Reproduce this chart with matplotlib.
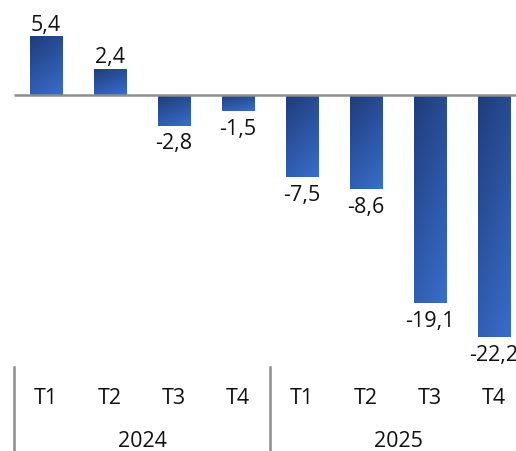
import numpy as np
import matplotlib.pyplot as plt
from matplotlib.colors import LinearSegmentedColormap

# Data
quarters = ['T1', 'T2', 'T3', 'T4', 'T1', 'T2', 'T3', 'T4']
years = ['2024', '2025']
values = [5.4, 2.4, -2.8, -1.5, -7.5, -8.6, -19.1, -22.2]

plt.rcParams['font.family'] = ['Open Sans', 'DejaVu Sans']
FS = 15.5

W, H = 516, 452
fig = plt.figure(figsize=(W / 100, H / 100), dpi=100)

# axes spans x=14..526 px (clipped at right), y=0..368 px
left, right_px, top_px, bot_px = 14, 526, 0, 368
ax = fig.add_axes([left / W, 1 - bot_px / H, (right_px - left) / W, (bot_px - top_px) / H])
ax.set_xlim(-0.5, 7.5)
ax.set_ylim(-24.95, 8.81)
ax.axis('off')

cmap = LinearSegmentedColormap.from_list('bar', ['#1f3c7a', '#3a6dcc'])
u, v = np.meshgrid(np.linspace(0, 1, 50), np.linspace(0, 1, 200))
grad = 0.3 * u + 0.7 * v  # dark top-left, light bottom-right

x = np.arange(len(values))
bw = 33 / 64
bars = ax.bar(x, values, width=bw, color='none', edgecolor='none', zorder=2)
for b, val in zip(bars, values):
    x0 = b.get_x()
    y0, y1 = (val, 0) if val < 0 else (0, val)
    im = ax.imshow(grad, cmap=cmap, extent=[x0, x0 + bw, y0, y1], origin='upper',
                   aspect='auto', zorder=2, interpolation='bilinear')
    im.set_clip_path(b)
    lbl = f'{val:.1f}'.replace('.', ',')
    if val >= 0:
        ax.annotate(lbl, (b.get_x() + bw / 2, val), xytext=(0, 1), textcoords='offset points',
                    ha='center', va='bottom', fontsize=FS, color='#111111')
    else:
        ax.annotate(lbl, (b.get_x() + bw / 2, val), xytext=(0, -5), textcoords='offset points',
                    ha='center', va='top', fontsize=FS, color='#111111')

# zero line
ax.plot([-0.5, 7.5], [0, 0], color='#8c8c8c', lw=1.8, zorder=3, solid_capstyle='butt')
ax.set_ylim(-24.95, 8.81)

# category axis below
cax = fig.add_axes([left / W, 0, (right_px - left) / W, (H - bot_px) / H])
cax.set_xlim(-0.5, 7.5)
cax.set_ylim(0, 1)
cax.axis('off')
for i, q in enumerate(quarters):
    cax.text(i, 1 - 31 / 84, q, ha='center', va='center', fontsize=FS, color='#111111')
for j, yr in enumerate(years):
    cax.text(j * 4 + 1.5, 1 - 74 / 84, yr, ha='center', va='center', fontsize=FS, color='#111111')
for sx in [-0.5, 3.5, 7.5]:
    cax.plot([sx, sx], [0, 1], color='#8c8c8c', lw=1.8, clip_on=False)

fig.savefig('out.png', dpi=100)
